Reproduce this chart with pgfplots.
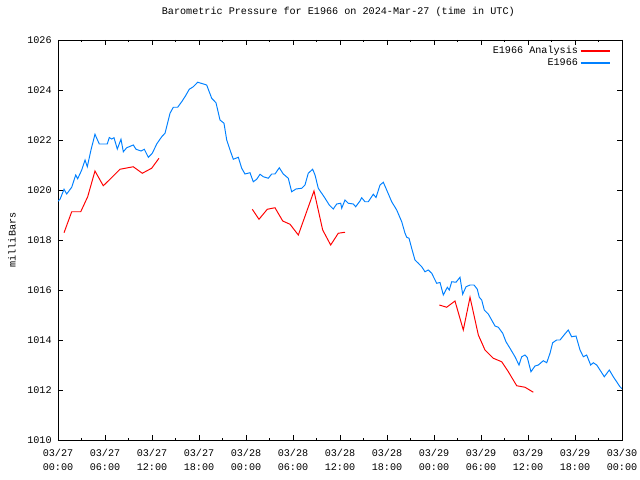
\documentclass[border=0pt]{standalone}
\usepackage{fontspec}
\setmainfont{Liberation Mono}
\usepackage{pgfplots}
\pgfplotsset{compat=1.18}
\definecolor{gpblue}{RGB}{0,128,255}
\definecolor{gpred}{RGB}{255,0,0}
\newcommand{\gpfont}{\fontsize{7.3}{10}\selectfont}
\begin{document}
\begin{tikzpicture}
\path[use as bounding box] (-41.76pt,-28.8pt) rectangle (419.04pt,316.8pt);
\begin{axis}[
  at={(0,0)}, anchor=south west,
  scale only axis, width=406.08pt, height=288pt,
  xmin=0, xmax=72, ymin=1010, ymax=1026,
  xtick={0,6,...,72},
  xticklabels={03/27\\00:00,03/27\\06:00,03/27\\12:00,03/27\\18:00,03/28\\00:00,03/28\\06:00,03/28\\12:00,03/28\\18:00,03/29\\00:00,03/29\\06:00,03/29\\12:00,03/29\\18:00,03/30\\00:00},
  minor x tick num=1,
  ytick={1010,1012,...,1026},
  tick align=inside, xtick pos=both, ytick pos=both,
  major tick length=3.3pt, minor tick length=1.6pt,
  every tick/.style={black, line width=0.7pt},
  axis line style={black, line width=0.7pt},
  /pgf/number format/.cd, set thousands separator={}, assume math mode=true, /pgfplots/.cd,
  tick label style={font=\gpfont},
  xticklabel style={align=center, anchor=north, inner sep=0pt, yshift=-6.2pt},
  yticklabel style={anchor=east, inner sep=0pt, xshift=-4.4pt},
  title={Barometric Pressure for E1966 on 2024-Mar-27 (time in UTC)},
  title style={font=\gpfont, at={(axis description cs:0.497,1.0425)}, anchor=base, inner sep=0pt},
  ylabel={milliBars},
  ylabel style={font=\gpfont, at={(axis description cs:-0.0816,0.5)}, anchor=center, inner sep=0pt},
  legend plot pos=right,
  legend cell align=right,
  legend image code/.code={\draw[#1, line width=1pt] (0pt,0pt) -- (20.9pt,0pt);},
  legend style={draw=none, fill=none, font=\gpfont, at={(axis description cs:1,1)}, anchor=north east, xshift=-8.2pt, yshift=-3.5pt, inner sep=0pt, row sep=0pt, nodes={inner sep=1.4pt, text height=4.6pt, text depth=1.2pt}},
]
\addplot[gpred, line width=0.7pt] coordinates {
(0.77,1018.29) (1.75,1019.13) (2.90,1019.13) (3.79,1019.73) (4.72,1020.76) (5.78,1020.17) (6.64,1020.43) (7.91,1020.83) (9.61,1020.93) (10.76,1020.67) (11.96,1020.87) (12.89,1021.27)
};
\addlegendentry{E1966 Analysis}
\addplot[gpblue, line width=0.7pt] coordinates {
(0.00,1019.55) (0.26,1019.63) (0.77,1020.03) (1.11,1019.84) (1.75,1020.11) (2.26,1020.60) (2.51,1020.45) (3.03,1020.80) (3.45,1021.20) (3.74,1020.93) (4.21,1021.60) (4.72,1022.23) (5.27,1021.84) (6.29,1021.84) (6.55,1022.10) (6.86,1022.04) (7.15,1022.09) (7.57,1021.64) (8.04,1022.03) (8.34,1021.53) (8.77,1021.69) (9.61,1021.80) (9.96,1021.63) (10.60,1021.56) (11.02,1021.63) (11.53,1021.31) (12.04,1021.47) (12.60,1021.84) (13.24,1022.13) (13.66,1022.27) (14.30,1023.07) (14.72,1023.31) (15.28,1023.31) (15.79,1023.53) (16.21,1023.73) (16.76,1024.03) (17.27,1024.13) (17.83,1024.31) (18.68,1024.23) (18.98,1024.20) (19.62,1023.67) (20.17,1023.49) (20.68,1022.80) (21.19,1022.67) (21.54,1022.00) (21.96,1021.60) (22.38,1021.23) (23.02,1021.31) (23.45,1020.87) (23.87,1020.64) (24.51,1020.69) (24.93,1020.33) (25.37,1020.43) (25.79,1020.63) (26.21,1020.53) (26.85,1020.47) (27.28,1020.64) (27.70,1020.64) (28.25,1020.89) (28.76,1020.64) (29.40,1020.47) (29.83,1019.93) (30.38,1020.04) (31.11,1020.07) (31.53,1020.20) (31.95,1020.67) (32.51,1020.83) (32.81,1020.60) (33.23,1020.07) (33.66,1019.87) (34.09,1019.67) (34.63,1019.40) (35.14,1019.24) (35.58,1019.44) (36.09,1019.47) (36.22,1019.27) (36.64,1019.60) (37.06,1019.47) (37.70,1019.44) (38.00,1019.33) (38.55,1019.56) (38.77,1019.69) (39.19,1019.53) (39.61,1019.53) (40.25,1019.83) (40.60,1019.70) (41.11,1020.20) (41.53,1020.31) (41.96,1020.00) (42.60,1019.53) (43.24,1019.20) (43.88,1018.73) (44.30,1018.27) (44.52,1018.11) (44.81,1018.07) (45.15,1017.67) (45.57,1017.20) (46.00,1017.07) (46.43,1016.93) (46.85,1016.73) (47.27,1016.80) (47.71,1016.67) (48.34,1016.27) (48.77,1016.30) (49.19,1015.80) (49.70,1016.11) (49.95,1016.00) (50.26,1016.33) (50.81,1016.31) (51.32,1016.51) (51.66,1015.83) (52.09,1016.13) (52.60,1016.20) (53.11,1016.20) (53.53,1016.03) (53.78,1015.71) (54.09,1015.60) (54.42,1015.20) (54.93,1015.04) (55.36,1014.80) (55.79,1014.56) (56.21,1014.51) (56.77,1014.27) (57.19,1013.93) (57.70,1013.67) (58.34,1013.33) (58.85,1013.00) (59.20,1013.33) (59.62,1013.40) (59.91,1013.30) (60.38,1012.73) (60.89,1012.96) (61.32,1013.00) (61.95,1013.17) (62.39,1013.09) (62.81,1013.47) (63.15,1013.89) (63.66,1014.00) (64.09,1014.00) (64.60,1014.20) (65.14,1014.40) (65.57,1014.13) (66.13,1014.16) (66.64,1013.60) (67.06,1013.33) (67.49,1013.40) (68.00,1013.00) (68.34,1013.09) (68.77,1013.00) (69.19,1012.80) (69.74,1012.53) (70.38,1012.80) (70.89,1012.53) (71.32,1012.33) (71.74,1012.13) (72.00,1012.05)
};
\addlegendentry{E1966}
\addplot[gpred, line width=0.7pt, forget plot] coordinates {
(24.80,1019.23) (25.66,1018.83) (26.72,1019.23) (27.70,1019.29) (28.69,1018.76) (29.62,1018.63) (30.68,1018.20) (32.68,1019.96) (33.79,1018.40) (34.81,1017.80) (35.78,1018.27) (36.64,1018.31)
};
\addplot[gpred, line width=0.7pt, forget plot] coordinates {
(48.68,1015.40) (49.62,1015.31) (50.68,1015.56) (51.74,1014.40) (52.60,1015.71) (53.66,1014.20) (54.51,1013.60) (55.57,1013.27) (56.64,1013.13) (57.49,1012.73) (58.56,1012.17) (59.62,1012.11) (60.68,1011.91)
};
\end{axis}
\end{tikzpicture}
\end{document}
